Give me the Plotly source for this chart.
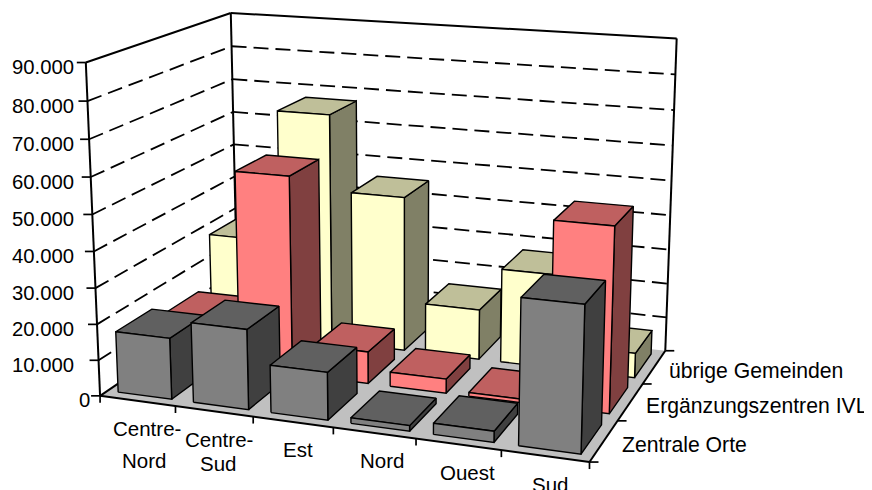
import numpy as np
import plotly.graph_objects as go

# ---- data ----
categories = ["Centre-Nord", "Centre-Sud", "Est", "Nord", "Ouest", "Sud"]
category_lines = [["Centre-", "Nord"], ["Centre-", "Sud"], ["Est"], ["Nord"], ["Ouest"], ["Sud"]]
series = ["Zentrale Orte", "Ergänzungszentren IVL", "übrige Gemeinden"]
zentrale = [17000, 22000, 13000, 1500, 3000, 38500]
ergaenzung = [13500, 56000, 9000, 4000, 1000, 50500]
uebrige = [28500, 67000, 45000, 14500, 27000, 7000]
tick_values = [0, 10000, 20000, 30000, 40000, 50000, 60000, 70000, 80000, 90000]
tick_labels = ["0", "10.000", "20.000", "30.000", "40.000", "50.000", "60.000", "70.000", "80.000", "90.000"]

# ---- styles ----
front_colors = ["#808080", "#FF8080", "#FFFFCC"]
top_colors = ["#606060", "#BF6060", "#BFBF99"]
side_colors = ["#404040", "#804040", "#808066"]
floor_color = "#C0C0C0"
FAMILY = "Liberation Sans, Arial, sans-serif"
GAP = (1 - 1 / 1.4) / 2

# ---- the chart's oblique perspective view: (category, series, value) -> (page x, page y) ----
view_samples = [
    ((0, 0, 0), (100, 395.7)), ((0, 0, 10000), (98.5, 360)), ((0, 0, 30000), (96, 288.3)),
    ((0, 0, 50000), (92.7, 214.3)), ((0, 0, 70000), (89.3, 139)), ((0, 0, 90000), (86, 62.7)),
    ((0, 3, 90000), (229, 12.7)), ((0, 3, 80000), (230.7, 46.3)), ((0, 3, 70000), (232.3, 79)),
    ((0, 3, 60000), (234, 112)), ((0, 3, 50000), (235.5, 144.3)),
    ((6, 3, 90000), (677.7, 39.3)), ((6, 3, 70000), (674, 110)), ((6, 3, 50000), (671, 180.7)),
    ((6, 3, 30000), (668.3, 248.3)), ((6, 3, 10000), (666, 317.7)), ((6, 3, 0), (665.3, 351)),
    ((6, 0, 0), (589.3, 461)), ((6, 1, 0), (618.7, 420.7)), ((6, 2, 0), (643.3, 384.3)),
    ((1, 0, 0), (175, 406.7)), ((2, 0, 0), (252.7, 417)), ((3, 0, 0), (332.7, 427.7)),
    ((4, 0, 0), (416, 437.7)), ((5, 0, 0), (501, 451)),
]
def solve_view(samples):
    rows = []
    for (c, s, v), (px, py) in samples:
        X = [c / 6, s / 3, v / 90000, 1]
        rows.append(X + [0, 0, 0, 0] + [-px / 500 * a for a in X])
        rows.append([0, 0, 0, 0] + X + [-py / 500 * a for a in X])
    return np.linalg.svd(np.array(rows))[2][-1].reshape(3, 4)
VIEW = solve_view(view_samples)
def pt(c, s, v):
    h = VIEW @ np.array([c / 6, s / 3, v / 90000, 1])
    return float(h[0] / h[2] * 500), float(h[1] / h[2] * 500)

fig = go.Figure()
def poly(points, fill, width=1.4):
    xs, ys = zip(*(points + points[:1]))
    fig.add_trace(go.Scatter(x=xs, y=ys, mode="lines", fill="toself", fillcolor=fill,
                             line=dict(color="black", width=width), hoverinfo="skip"))
def line(segments, width, dash="solid"):
    xs, ys = [], []
    for a, b in segments:
        xs += [a[0], b[0], None]
        ys += [a[1], b[1], None]
    fig.add_trace(go.Scatter(x=xs, y=ys, mode="lines", line=dict(color="black", width=width, dash=dash),
                             hoverinfo="skip"))

# grid on both walls
T = tick_values[-1]
for t in tick_values[1:-1]:
    line([(pt(0, 0, t), pt(0, 3, t))], 1.8, "15px,7px")
    line([(pt(0, 3, t), pt(6, 3, t))], 1.8, "15px,7px")
# floor
fx, fy = zip(*[pt(0, 0, 0), pt(6, 0, 0), pt(6, 3, 0), pt(0, 3, 0), pt(0, 0, 0)])
fig.add_trace(go.Scatter(x=fx, y=fy, mode="lines", fill="toself", fillcolor=floor_color,
                         line=dict(width=0, color=floor_color), hoverinfo="skip"))
# walls and axes
line([(pt(0, 0, 0), pt(0, 0, T)), (pt(0, 0, T), pt(0, 3, T)), (pt(0, 3, T), pt(6, 3, T)),
      (pt(0, 3, T), pt(0, 3, 0)), (pt(6, 3, T), pt(6, 3, 0)), (pt(0, 0, 0), pt(0, 3, 0)),
      (pt(0, 0, 0), pt(6, 0, 0)), (pt(6, 0, 0), pt(6, 3, 0))], 2)
segs = []
for t in tick_values:
    a = pt(0, 0, t); segs.append((a, (a[0] - 9, a[1])))
for c in range(7):
    a = pt(c, 0, 0); segs.append((a, (a[0], a[1] + 7)))
for s in range(4):
    a = pt(6, s, 0); segs.append((a, (a[0] + 9, a[1])))
line(segs, 1.7)

# bars, back series first, left to right
for s in (2, 1, 0):
    vals = [zentrale, ergaenzung, uebrige][s]
    for c, v in enumerate(vals):
        x0, x1, y0, y1 = c + GAP, c + 1 - GAP, s + GAP, s + 1 - GAP
        poly([pt(x1, y0, 0), pt(x1, y1, 0), pt(x1, y1, v), pt(x1, y0, v)], side_colors[s])
        poly([pt(x0, y0, v), pt(x1, y0, v), pt(x1, y1, v), pt(x0, y1, v)], top_colors[s])
        poly([pt(x0, y0, 0), pt(x1, y0, 0), pt(x1, y0, v), pt(x0, y0, v)], front_colors[s])

# labels
ann = []
def label(x, y, text, anchor, size):
    ann.append(dict(x=x, y=y, xref="x", yref="y", text=text, showarrow=False, xanchor=anchor,
                    yanchor="middle", font=dict(family=FAMILY, size=size, color="black")))
for t, l in zip(tick_values, tick_labels):
    a = pt(0, 0, t)
    label(92 if t == 0 else 76, a[1] + 4.5, l, "right", 20.3)
line_steps = [32, 24, 0, 0, 0, 0]
line_nudges = [[9.5, 6], [5, 4], [5], [8], [9], [5]]
for c, lines in enumerate(category_lines):
    a = pt(c + 0.5, 0, 0)
    for i, l in enumerate(lines):
        label(a[0] + line_nudges[c][i], a[1] + 28 + i * line_steps[c], l, "center", 20.5)
series_nudges = [16, 14, 13]
for s, l in enumerate(series):
    a = pt(6, s + 0.5, 0)
    label(a[0] + series_nudges[s], a[1] + 4, l, "left", 21.2)

# the page keeps its default 8 px body margin: the figure starts at (8, 8)
hidden = dict(visible=False, showgrid=False, zeroline=False, fixedrange=True)
fig.update_layout(width=864, height=482, margin=dict(l=0, r=0, t=0, b=0), showlegend=False,
                  paper_bgcolor="white", plot_bgcolor="white", annotations=ann,
                  xaxis=dict(hidden, range=[8, 872]), yaxis=dict(hidden, range=[490, 8]))
fig.write_html("out.html", config=dict(displayModeBar=False))
